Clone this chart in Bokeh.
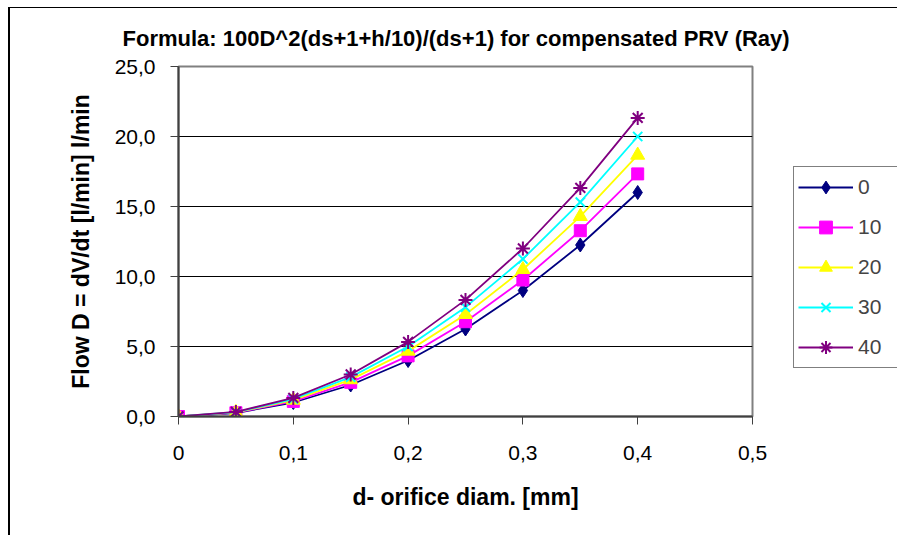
from bokeh.plotting import figure
from bokeh.models import (FixedTicker, Legend, LegendItem, ColumnDataSource)
from bokeh.embed import file_html
from bokeh.resources import INLINE

# ---- data ----
d_mm = [0.0, 0.05, 0.1, 0.15, 0.2, 0.25, 0.3, 0.35, 0.4]
flow_h0 = [0.0, 0.25, 1.0, 2.25, 4.0, 6.25, 9.0, 12.25, 16.0]
flow_h10 = [0.0, 0.27, 1.08, 2.44, 4.33, 6.77, 9.75, 13.27, 17.33]
flow_h20 = [0.0, 0.29, 1.17, 2.63, 4.67, 7.29, 10.5, 14.29, 18.67]
flow_h30 = [0.0, 0.31, 1.25, 2.81, 5.0, 7.81, 11.25, 15.31, 20.0]
flow_h40 = [0.0, 0.33, 1.33, 3.0, 5.33, 8.33, 12.0, 16.33, 21.33]
series_names = ["0", "10", "20", "30", "40"]

x_ticks = [0.0, 0.1, 0.2, 0.3, 0.4, 0.5]
x_tick_labels = ["0", "0,1", "0,2", "0,3", "0,4", "0,5"]
y_ticks = [0.0, 5.0, 10.0, 15.0, 20.0, 25.0]
y_tick_labels = ["0,0", "5,0", "10,0", "15,0", "20,0", "25,0"]

title_text = "Formula: 100D^2(ds+1+h/10)/(ds+1) for compensated PRV (Ray)"
x_label = "d- orifice diam. [mm]"
y_label = "Flow D = dV/dt [l/min] l/min"

FONT = "Liberation Sans"

p = figure(frame_width=574, frame_height=350, output_backend="svg", toolbar_location=None,
           x_range=(0, 0.5), y_range=(0, 25),
           min_border_left=168, min_border_top=57, min_border_bottom=119,
           min_border_right=140, title=title_text)
p.styles = {"margin-left": "8px", "margin-top": "7px",
            "border-top": "1px solid black", "border-left": "2px solid black"}

p.title.text_font = FONT
p.title.text_font_size = "22px"
p.title.text_font_style = "bold"
p.title.text_color = "black"
p.title.align = "left"
p.title.offset = -56
p.title.standoff = 31

p.outline_line_color = "#808080"
p.outline_line_width = 2
p.background_fill_color = "white"
p.border_fill_color = "white"

# axes
for ax in (p.xaxis, p.yaxis):
    ax.axis_line_color = "#404040"
    ax.axis_line_width = 2
    ax.major_tick_line_color = "#404040"
    ax.major_tick_in = 0
    ax.major_tick_out = 8
    ax.minor_tick_line_color = None
    ax.major_label_text_font = FONT
    ax.major_label_text_font_size = "21px"
    ax.major_label_text_color = "black"
    ax.axis_label_text_font = FONT
    ax.axis_label_text_font_size = "23px"
    ax.axis_label_text_font_style = "bold"
    ax.axis_label_text_color = "black"

p.xaxis.ticker = FixedTicker(ticks=x_ticks)
p.xaxis.major_label_overrides = {t: l for t, l in zip(x_ticks, x_tick_labels)}
p.xaxis.major_label_standoff = 21
p.xaxis.axis_label = x_label
p.xaxis.axis_label_standoff = 21

p.yaxis.ticker = FixedTicker(ticks=y_ticks)
p.yaxis.major_label_overrides = {t: l for t, l in zip(y_ticks, y_tick_labels)}
p.yaxis.major_label_standoff = 15
p.yaxis.axis_label = y_label
p.yaxis.axis_label_standoff = 18

p.xgrid.grid_line_color = None
p.ygrid.grid_line_color = "black"
p.ygrid.grid_line_width = 1

colors = ["#000080", "#FF00FF", "#FFFF00", "#00FFFF", "#800080"]
markers = ["diamond", "square", "triangle", "x", "asterisk"]
sizes = [14, 12, 14, 13, 14]
all_series = [flow_h0, flow_h10, flow_h20, flow_h30, flow_h40]

items = []
for name, ys, c, m, s in zip(series_names, all_series, colors, markers, sizes):
    src = ColumnDataSource(dict(x=d_mm, y=ys))
    r1 = p.line("x", "y", source=src, line_color=c, line_width=1.8)
    r2 = p.scatter("x", "y", source=src, marker=m, size=s, fill_color=c,
                   line_color=c, line_width=2 if m in ("x", "asterisk") else 1)
    items.append(LegendItem(label=name, renderers=[r1, r2]))

legend = Legend(items=items, location=(41, 48))
legend.label_text_font = FONT
legend.label_text_font_size = "21px"
legend.glyph_width = 55
legend.glyph_height = 32
legend.label_height = 32
legend.label_width = 35
legend.label_standoff = 5
legend.spacing = 8
legend.padding = 4
legend.margin = 0
legend.border_line_color = "black"
legend.border_line_width = 1
legend.background_fill_color = "white"
p.add_layout(legend, "right")

open("out.html", "w").write(file_html(p, INLINE))
